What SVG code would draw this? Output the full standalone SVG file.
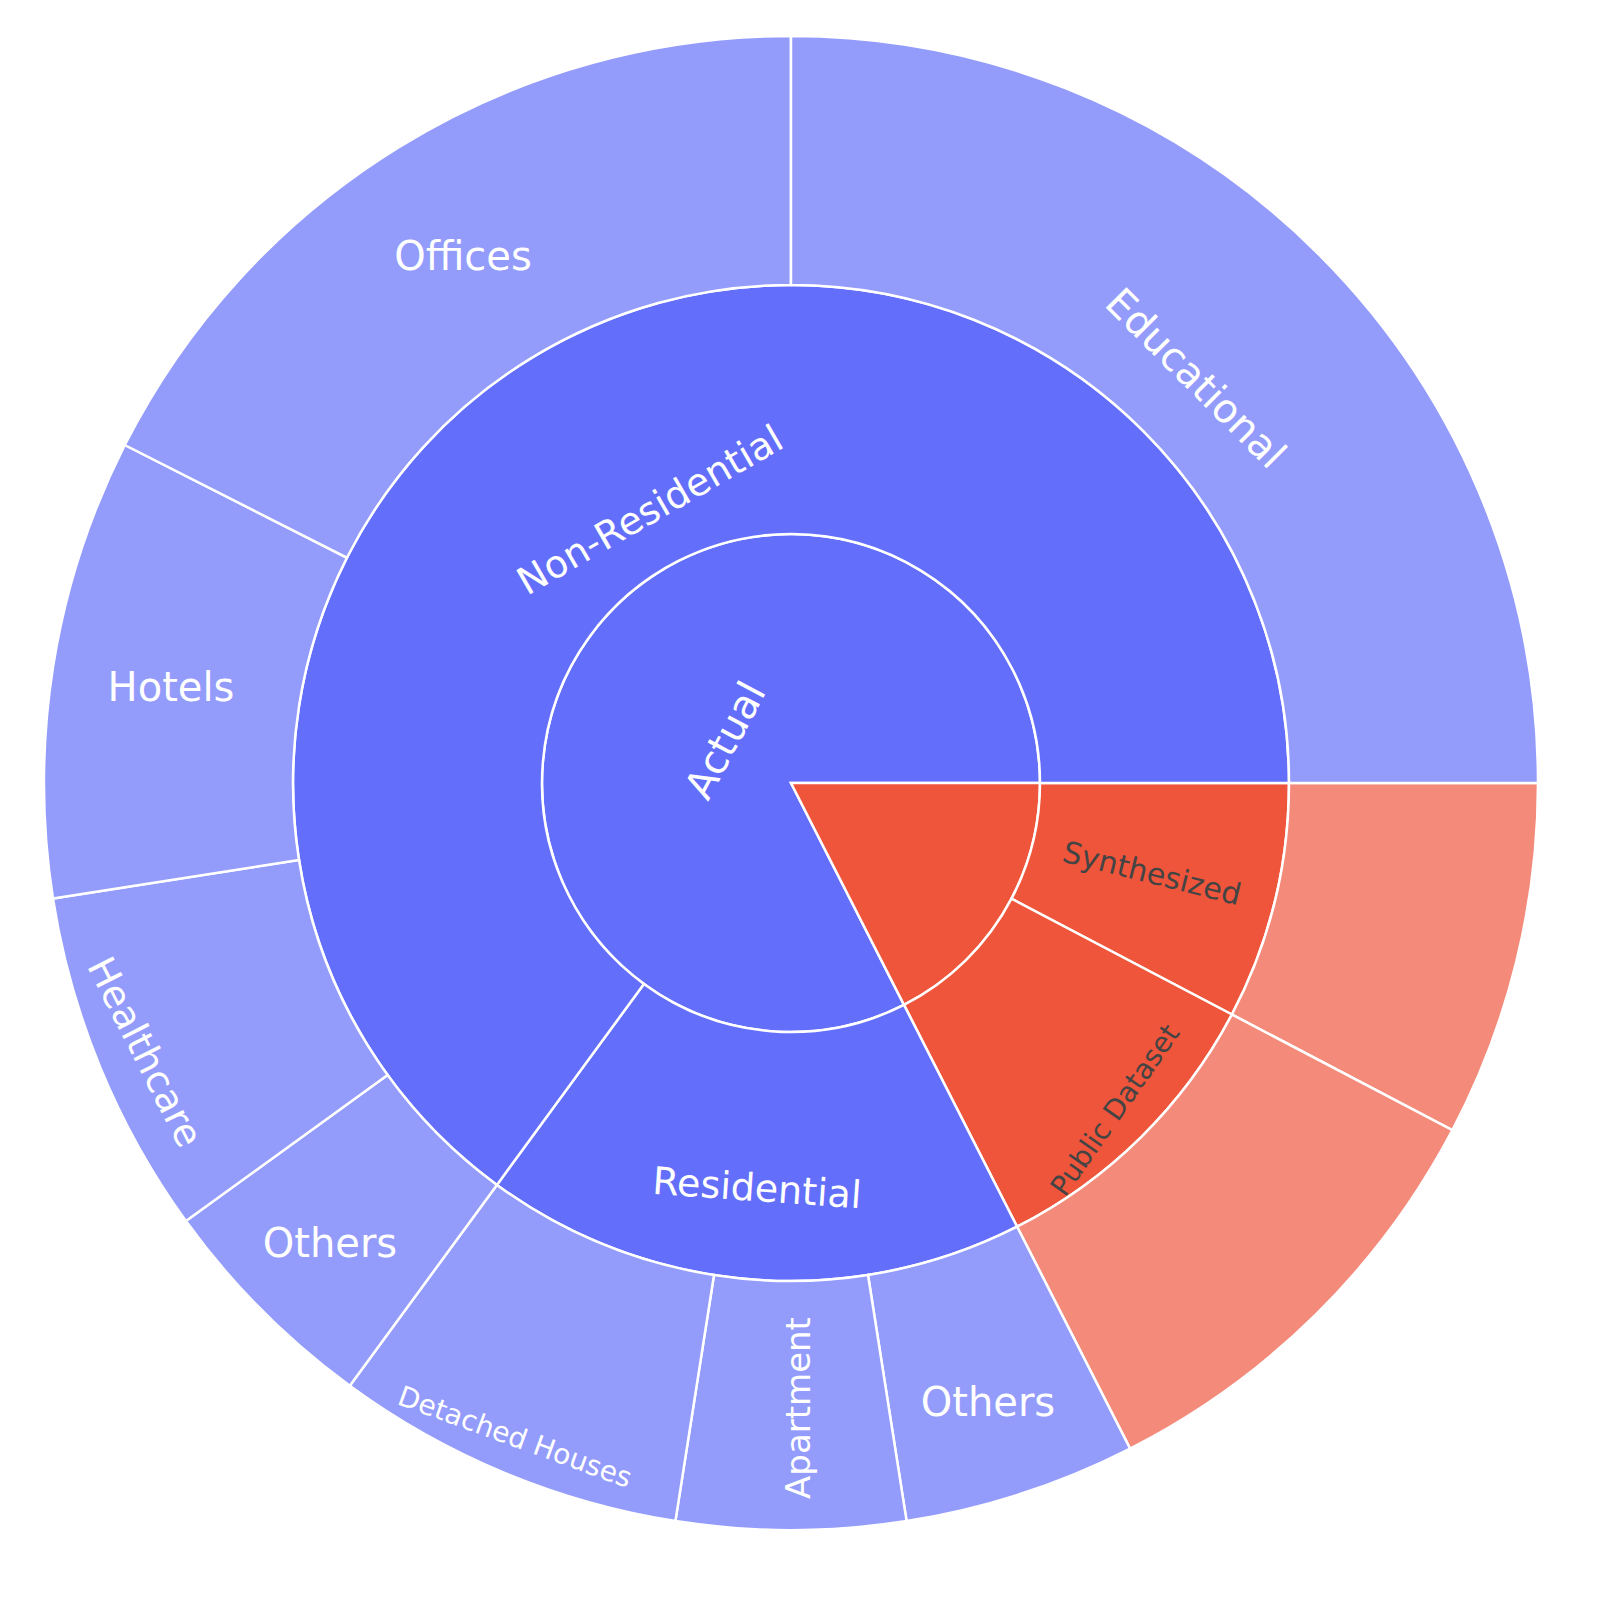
<svg xmlns="http://www.w3.org/2000/svg" width="1623" height="1605" viewBox="0 0 1623 1605">
<style>
.b{fill:#636efa;stroke:#fff;stroke-width:2.5}
.lb{fill:#939bfb;stroke:#fff;stroke-width:2.5}
.r{fill:#ef553b;stroke:#fff;stroke-width:2.5}
.lr{fill:#f38a7a;stroke:#fff;stroke-width:2.5}
text{font-family:"DejaVu Sans","Open Sans",sans-serif;text-anchor:middle;dominant-baseline:central}
.w{fill:#fff}
.d{fill:#444}
</style>
<rect width="1623" height="1605" fill="#fff"/>
<g id="actual"><path class="b" d="M791,783 L904,1004.9 A249,249 0 1 1 1040,783 Z"/><text class="w" font-size="40" transform="translate(725,740) rotate(-62)">Actual</text></g>
<g id="red-root"><path class="r" d="M791,783 L1040,783 A249,249 0 0 1 904,1004.9 Z"/></g>
<g id="synthesized"><path class="r" d="M1289,783 A498,498 0 0 1 1231.9,1014.5 L1011.5,898.7 A249,249 0 0 0 1040,783 Z"/><text class="d" font-size="30" transform="translate(1152,873) rotate(14)">Synthesized</text></g>
<g id="public"><path class="r" d="M1231.9,1014.5 A498,498 0 0 1 1017.1,1226.7 L904,1004.9 A249,249 0 0 0 1011.5,898.7 Z"/><text class="d" font-size="28" transform="translate(1115,1110) rotate(-55)">Public Dataset</text></g>
<g id="residential"><path class="b" d="M1017.1,1226.7 A498,498 0 0 1 496.9,1184.9 L643.9,983.9 A249,249 0 0 0 904,1004.9 Z"/><text class="w" font-size="38" transform="translate(757,1188) rotate(4)">Residential</text></g>
<g id="nonres"><path class="b" d="M496.9,1184.9 A498,498 0 1 1 1289,783 L1040,783 A249,249 0 1 0 643.9,983.9 Z"/><text class="w" font-size="38" transform="translate(650,510) rotate(-30)">Non-Residential</text></g>
<g id="syn-out"><path class="lr" d="M1538,783 A747,747 0 0 1 1452.4,1130.2 L1231.9,1014.5 A498,498 0 0 0 1289,783 Z"/></g>
<g id="pub-out"><path class="lr" d="M1452.4,1130.2 A747,747 0 0 1 1130.1,1448.6 L1017.1,1226.7 A498,498 0 0 0 1231.9,1014.5 Z"/></g>
<g id="others-res"><path class="lb" d="M1130.1,1448.6 A747,747 0 0 1 906.6,1521.1 L868,1275 A498,498 0 0 0 1017.1,1226.7 Z"/><text class="w" font-size="40" x="988" y="1402">Others</text></g>
<g id="apartment"><path class="lb" d="M906.6,1521.1 A747,747 0 0 1 675.4,1521.1 L714,1275 A498,498 0 0 0 868,1275 Z"/><text class="w" font-size="34" transform="translate(798,1408) rotate(-90)">Apartment</text></g>
<g id="detached"><path class="lb" d="M675.4,1521.1 A747,747 0 0 1 349.8,1385.8 L496.9,1184.9 A498,498 0 0 0 714,1275 Z"/><text class="w" font-size="28" transform="translate(515,1437) rotate(20)">Detached Houses</text></g>
<g id="others-nr"><path class="lb" d="M349.8,1385.8 A747,747 0 0 1 185.9,1221 L387.6,1075 A498,498 0 0 0 496.9,1184.9 Z"/><text class="w" font-size="40" x="330" y="1243">Others</text></g>
<g id="healthcare"><path class="lb" d="M185.9,1221 A747,747 0 0 1 53,898.6 L299,860 A498,498 0 0 0 387.6,1075 Z"/><text class="w" font-size="38" transform="translate(145,1052) rotate(63)">Healthcare</text></g>
<g id="hotels"><path class="lb" d="M53,898.6 A747,747 0 0 1 124.8,445 L346.9,557.7 A498,498 0 0 0 299,860 Z"/><text class="w" font-size="40" x="171" y="687">Hotels</text></g>
<g id="offices"><path class="lb" d="M124.8,445 A747,747 0 0 1 791,36 L791,285 A498,498 0 0 0 346.9,557.7 Z"/><text class="w" font-size="40" x="463" y="256">Offices</text></g>
<g id="educational"><path class="lb" d="M791,36 A747,747 0 0 1 1538,783 L1289,783 A498,498 0 0 0 791,285 Z"/><text class="w" font-size="40" transform="translate(1196,378) rotate(45)">Educational</text></g>
<g id="connectors"></g>
</svg>
